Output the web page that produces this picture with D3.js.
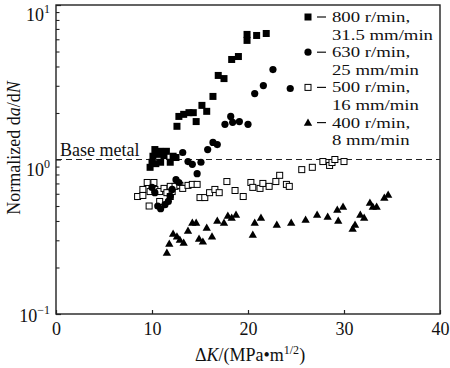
<!DOCTYPE html>
<html><head><meta charset="utf-8">
<script src="https://cdn.jsdelivr.net/npm/d3@7"></script>
<style>body{margin:0;background:#fff}svg{display:block}text{font-family:"Liberation Serif","Times New Roman",serif;fill:#111}</style>
</head><body><svg id="c" width="450" height="368"></svg>
<script>
// ---- data (ΔK, normalized da/dN) ----
const s800 = [[9.8,0.89],[10.0,0.96],[10.1,1.05],[10.3,1.16],[10.4,0.94],[10.6,1.08],[10.8,1.13],[10.9,0.96],[11.25,1.06],[11.5,1.13],[11.9,0.96],[12.2,1.05],[12.5,1.03],[12.6,1.64],[12.8,1.90],[13.3,1.96],[13.85,2.01],[14.3,2.01],[14.6,1.76],[15.2,2.24],[15.7,2.05],[16.35,2.56],[16.9,3.50],[17.5,3.34],[18.3,4.44],[19.0,4.64],[19.9,6.45],[19.9,5.9],[20.9,6.35],[21.9,6.54]];
const s630 = [[10.0,0.66],[10.3,0.61],[10.6,0.50],[10.9,0.48],[11.35,0.51],[11.7,0.535],[11.9,0.58],[12.1,0.64],[12.5,0.74],[12.8,0.71],[13.2,1.11],[13.75,0.97],[14.2,0.93],[14.7,0.81],[15.1,0.96],[15.8,1.16],[16.35,1.29],[16.8,1.25],[17.6,1.69],[18.2,1.90],[18.4,1.74],[19.1,1.76],[20.0,1.69],[20.7,2.67],[21.6,3.01],[22.6,3.82],[24.4,2.88]];
const s500 = [[8.5,0.576],[9.05,0.64],[9.05,0.585],[9.5,0.71],[9.7,0.50],[9.8,0.62],[10.2,0.71],[10.3,0.64],[10.8,0.62],[10.8,0.535],[11.25,0.65],[11.55,0.61],[11.9,0.67],[11.9,0.576],[12.1,0.62],[12.4,0.67],[12.9,0.68],[13.2,0.65],[13.75,0.68],[14.2,0.69],[14.7,0.69],[15.0,0.567],[15.5,0.567],[16.0,0.61],[16.55,0.64],[17.0,0.61],[17.8,0.72],[18.65,0.63],[19.5,0.576],[20.3,0.71],[20.5,0.66],[21.25,0.65],[21.55,0.70],[22.2,0.67],[22.9,0.72],[23.3,0.79],[24.0,0.69],[24.3,0.67],[25.6,0.86],[26.7,0.89],[27.8,0.97],[28.5,0.915],[28.75,0.956],[29.05,1.0],[30.0,0.97]];
const s400 = [[11.55,0.25],[11.8,0.286],[12.2,0.332],[12.6,0.318],[12.9,0.303],[13.3,0.29],[13.75,0.347],[14.2,0.391],[14.6,0.391],[14.9,0.308],[15.3,0.295],[15.7,0.363],[16.25,0.318],[16.8,0.403],[17.5,0.391],[17.9,0.434],[18.3,0.421],[18.75,0.441],[20.5,0.327],[20.7,0.391],[21.35,0.421],[23.0,0.38],[24.5,0.391],[26.0,0.409],[27.2,0.441],[28.3,0.428],[29.3,0.475],[29.4,0.403],[29.9,0.496],[30.9,0.358],[31.15,0.38],[31.7,0.441],[32.1,0.421],[32.7,0.527],[33.0,0.496],[33.4,0.496],[34.2,0.567],[34.6,0.594]];
const xTicks = [0,10,20,30,40];
const yMajor = [0.1,1,10];
const yExp = ["\u22121","0","1"];
const legendLines = [["800 r/min,","31.5 mm/min"],["630 r/min,","25 mm/min"],["500 r/min,","16 mm/min"],["400 r/min,","8 mm/min"]];
const baseLevel = 1.0;

// ---- drawing ----
const svg = d3.select("#c");
const L=56,R=440,T=5,B=314;
const x = d3.scaleLinear().domain([0,40]).range([L,R]);
const y = d3.scaleLog().domain([0.1,10]).range([B,T]);
const ink="#1a1a1a";

// frame
svg.append("rect").attr("x",L).attr("y",T).attr("width",R-L).attr("height",B-T)
  .attr("fill","none").attr("stroke","#222").attr("stroke-width",1.4);

// x axis
const gx = svg.append("g").attr("transform",`translate(0,${B})`)
  .call(d3.axisBottom(x).tickValues(xTicks).tickSizeInner(-4).tickSizeOuter(0).tickPadding(8).tickFormat(d3.format("d")));
gx.select(".domain").remove();
gx.selectAll("line").attr("stroke","#222").attr("stroke-width",1.2);
gx.selectAll("text").attr("font-size",18).attr("font-family","Liberation Serif").attr("fill",ink);

// y axis ticks (major + minor)
const minor=[];
[0.1,1].forEach(d=>{for(let k=2;k<=9;k++)minor.push(d*k);});
const gy = svg.append("g").attr("transform",`translate(${L},0)`)
  .call(d3.axisLeft(y).tickValues(yMajor).tickSizeInner(-5).tickSizeOuter(0).tickFormat(""));
gy.select(".domain").remove();
gy.selectAll("line").attr("stroke","#222").attr("stroke-width",1.2);
svg.append("g").attr("transform",`translate(${L},0)`)
  .call(d3.axisLeft(y).tickValues(minor).tickSizeInner(-3.5).tickSizeOuter(0).tickFormat(""))
  .call(g=>g.select(".domain").remove())
  .selectAll("line").attr("stroke","#222").attr("stroke-width",1.1);

// y tick labels with superscripts
const yOff = {0.1:8, 1:16, 10:16};
yMajor.forEach((v,i)=>{
  const t = svg.append("text").attr("x",L-6).attr("y",y(v)+yOff[v]).attr("text-anchor","end").attr("font-size",18);
  t.append("tspan").text("10");
  t.append("tspan").attr("font-size",12).attr("dy",-8).text(yExp[i]);
});

// base metal dashed line
svg.append("line").attr("x1",L).attr("x2",R).attr("y1",y(baseLevel)).attr("y2",y(baseLevel))
  .attr("stroke","#222").attr("stroke-width",1.1).attr("stroke-dasharray","6,4");
svg.append("text").attr("x",60).attr("y",y(baseLevel)-4).attr("font-size",18).text("Base metal");

// axis titles
const xt = svg.append("text").attr("x",250).attr("y",361).attr("text-anchor","middle").attr("font-size",18);
xt.append("tspan").text("\u0394");
xt.append("tspan").attr("font-style","italic").text("K");
xt.append("tspan").text("/(MPa\u2022m");
xt.append("tspan").attr("font-size",12).attr("dy",-7).text("1/2");
xt.append("tspan").attr("dy",7).text(")");

const yt = svg.append("text").attr("transform","translate(20,148) rotate(-90)").attr("text-anchor","middle").attr("font-size",18);
yt.append("tspan").text("Normalized d");
yt.append("tspan").attr("font-style","italic").text("a");
yt.append("tspan").text("/d");
yt.append("tspan").attr("font-style","italic").text("N");

// markers
const sq=7, osq=6, cr=3.6;
function filledSquare(g,cx,cy){g.append("rect").attr("x",cx-sq/2).attr("y",cy-sq/2).attr("width",sq).attr("height",sq).attr("fill","#000");}
function openSquare(g,cx,cy){g.append("rect").attr("x",cx-osq/2).attr("y",cy-osq/2).attr("width",osq).attr("height",osq).attr("fill","#fff").attr("stroke","#000").attr("stroke-width",1);}
function circle(g,cx,cy){g.append("circle").attr("cx",cx).attr("cy",cy).attr("r",cr).attr("fill","#000");}
const triPath = d3.symbol().type(d3.symbolTriangle).size(30);
function tri(g,cx,cy){g.append("path").attr("d",triPath()).attr("transform",`translate(${cx},${cy+0.8})`).attr("fill","#000");}

const series=[[s500,openSquare],[s400,tri],[s630,circle],[s800,filledSquare]];
series.forEach(([data,fn])=>{
  const g=svg.append("g");
  data.forEach(d=>fn(g,x(d[0]),y(d[1])));
});

// legend
const lg = svg.append("g");
const legFns=[filledSquare,circle,openSquare,tri];
const lineGap=17.6;
legendLines.forEach((ln,i)=>{
  const base=22+i*2*lineGap;
  const cy=base-5;
  legFns[i](lg,308,cy);
  lg.append("line").attr("x1",317).attr("x2",326).attr("y1",cy).attr("y2",cy).attr("stroke","#111").attr("stroke-width",1.2);
  const t=lg.append("text").attr("transform",`translate(332,${base}) scale(1.25,1)`).attr("font-size",15);
  t.append("tspan").attr("x",0).text(ln[0]);
  t.append("tspan").attr("x",0).attr("dy",lineGap).text(ln[1]);
});
</script></body></html>
